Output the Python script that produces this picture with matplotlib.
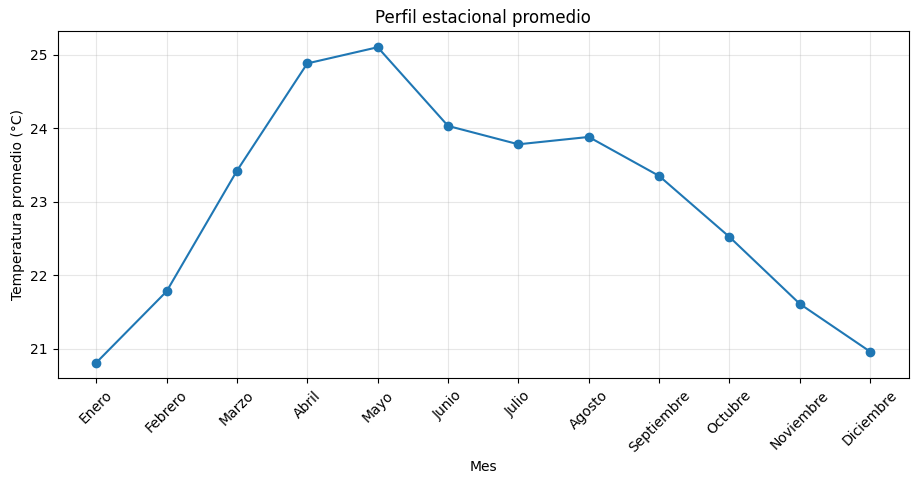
import matplotlib
matplotlib.use("Agg")
import matplotlib.pyplot as plt

meses = ["Enero", "Febrero", "Marzo", "Abril", "Mayo", "Junio", "Julio",
         "Agosto", "Septiembre", "Octubre", "Noviembre", "Diciembre"]
temperaturas = [20.81, 21.78, 23.42, 24.88, 25.10, 24.03, 23.78, 23.88,
                23.35, 22.52, 21.61, 20.96]

fig, ax = plt.subplots(figsize=(9.19, 4.84), dpi=100)
ax.plot(meses, temperaturas, marker="o")
ax.set_title("Perfil estacional promedio")
ax.set_xlabel("Mes")
ax.set_ylabel("Temperatura promedio (°C)")
ax.grid(True, alpha=0.3)
plt.setp(ax.get_xticklabels(), rotation=45)
fig.subplots_adjust(left=0.0626, right=0.989, top=0.935, bottom=0.218)
fig.savefig("out.png", dpi=100)
